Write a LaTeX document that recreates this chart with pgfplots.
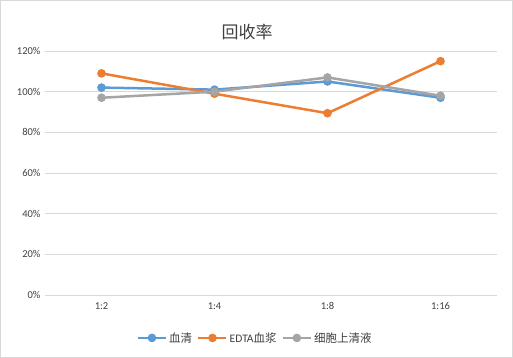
\documentclass[border=0pt]{standalone}
\usepackage{pgfplots}
\pgfplotsset{compat=1.18}
\usepackage{fontspec}
\setmainfont{Carlito}
\newfontfamily\cjk{Noto Sans CJK SC}
\definecolor{cblue}{HTML}{5B9BD5}
\definecolor{corange}{HTML}{ED7D31}
\definecolor{cgray}{HTML}{A5A5A5}
\definecolor{gridgray}{HTML}{D9D9D9}
\definecolor{txt}{HTML}{404040}
\begin{document}
\begin{tikzpicture}[x=1pt,y=1pt]
\path[use as bounding box] (0,0) rectangle (513,358);
\draw[color=gridgray, line width=0.8pt] (0.5,0.5) rectangle (512.5,357.5);
\node[font=\cjk\fontsize{17}{20}\selectfont, text=txt] at (247,326) {回收率};
\begin{axis}[at={(45pt,63pt)}, anchor=south west, scale only axis,
  width=452pt, height=244pt,
  xmin=-0.5, xmax=3.5, ymin=0, ymax=120,
  ytick={0,20,40,60,80,100,120},
  yticklabels={0\%,20\%,40\%,60\%,80\%,100\%,120\%},
  xtick={0,1,2,3}, xticklabels={1:2,1:4,1:8,1:16},
  axis line style={draw=none}, major tick length=0pt,
  ymajorgrids, grid style={gridgray, line width=0.75pt},
  tick label style={font=\fontsize{10.5}{12}\selectfont, text=txt},
  xticklabel style={yshift=-4pt},
  yticklabel style={xshift=-1pt},
  clip=false,
  legend columns=3,
  legend style={at={(0.465,-0.176)}, anchor=center, draw=none, fill=none,
    font=\cjk\fontsize{11.5}{13}\selectfont, text=txt,
    /tikz/every even column/.append style={column sep=3pt},
    inner sep=0pt},
  legend image code/.code={\draw[mark repeat=2,mark phase=2] plot coordinates {(0pt,0pt)(14pt,0pt)(28pt,0pt)};},
  every axis plot/.append style={line width=2.5pt, mark=*, mark size=3pt, mark options={solid}},
]
\addplot[color=cblue] coordinates {(0,102) (1,101) (2,105) (3,97)};
\addlegendentry{血清}
\addplot[color=corange] coordinates {(0,109) (1,99) (2,89.4) (3,115)};
\addlegendentry{{\fontspec{Carlito}EDTA}血浆}
\addplot[color=cgray] coordinates {(0,97) (1,100) (2,107) (3,98)};
\addlegendentry{细胞上清液}
\end{axis}
\end{tikzpicture}
\end{document}
